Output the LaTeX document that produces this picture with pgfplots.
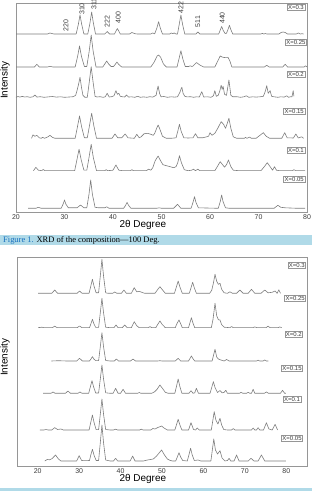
\documentclass[border=0pt]{standalone}
\usepackage{pgfplots}
\pgfplotsset{compat=1.18}
\usepackage{fontspec}
\setmainfont{Liberation Sans}
\newfontfamily\timesf{Liberation Serif}
\definecolor{trace}{RGB}{125,125,125}
\definecolor{axgray}{RGB}{150,150,150}
\definecolor{txt}{RGB}{60,60,60}
\definecolor{capbar}{RGB}{176,218,232}
\definecolor{capblue}{RGB}{20,110,190}
\pgfplotsset{
  off/.style={y filter/.expression={y+#1}},
  xrd/.style={
    scale only axis, height=209bp, ymin=0, ymax=209,
    ytick=\empty, xtick={20,30,...,80}, major tick length=0pt,
    axis line style={draw=axgray, line width=0.6bp},
    /pgf/number format/assume math mode=true,
    xticklabel style={font=\fontsize{7}{8}\selectfont, text=txt, inner sep=1bp, yshift=-1bp},
    xlabel={2θ Degree},
    xlabel style={font=\fontsize{7}{8}\selectfont, text=txt},
    ylabel={Intensity},
    ylabel style={font=\fontsize{8.5}{9}\selectfont, text=txt},
    clip=false,
    every axis plot/.append style={trace, line width=0.6bp, line join=round, no marks},
  },
}
\tikzset{
  xb/.style={draw=axgray, fill=white, font=\fontsize{6}{7}\selectfont, text=txt, inner sep=1bp, line width=0.5bp, anchor=north east},
  pk/.style={rotate=90, anchor=west, inner sep=0pt, font=\fontsize{7}{8}\selectfont, text=txt},
}
\begin{document}
\begin{tikzpicture}
\useasboundingbox (0,0) rectangle (312bp,491bp);
\fill[capbar] (0,246bp) rectangle (312bp,256bp);
\fill[capbar] (0,0) rectangle (312bp,3bp);
\node[anchor=west, inner sep=0pt, font=\timesf\fontsize{8.5}{9}\selectfont] at (3bp,251bp) {\textcolor{capblue}{Figure 1.} XRD of the composition—100 Deg.};

% ---------------- Panel 1 ----------------
\begin{axis}[xrd, at={(16bp,279bp)}, anchor=south west, width=291bp, xmin=20, xmax=80,
  every axis x label/.style={at={(rel axis cs:0.436,0)}, anchor=center, yshift=-12.5bp},
  every axis y label/.style={at={(rel axis cs:-0.038,0.63)}, anchor=center, rotate=90}]
% X=0.3
\addplot[off=178] coordinates {(20,0)(26.5,0)(27,1)(27.4,0.5)(27.8,0)(32.4,0)(32.85,9.5)(33.2,19)(33.55,9.5)(34.0,0)(34.8,0)(35.25,11)(35.6,22)(35.95,11)(36.4,0)(38.3,0)(38.8,2.5)(39.3,0)(40.3,0)(40.6,2.8)(40.9,5.5)(41.2,2.8)(41.5,0)(43.4,0)(43.9,1.5)(44.5,0.3)(45,0)(47.8,0)(48.2,1)(48.6,0.2)(49.05,6)(49.4,12.3)(49.75,6)(50.2,0)(51.7,0)(52,1)(52.3,0.3)(52.6,1)(53,0)(53.3,0)(53.65,9.5)(54,19)(54.35,9.5)(54.8,0)(57.1,0)(57.5,2)(57.9,0)(61.8,0)(62.1,3.8)(62.4,7.5)(62.7,3.8)(63.1,0.5)(63.4,0.8)(63.7,4.3)(64,8.7)(64.3,4.3)(64.7,0)(70.5,0)(70.8,0.6)(71.1,0)(71.4,0.5)(71.7,0)(74.2,0)(74.7,1.6)(75.1,2)(75.5,1.5)(76,0)(77.8,0)(78.2,1)(78.6,0)(79,0.3)(79.3,0)};
% X=0.25
\addplot[off=145] coordinates {(20,0)(23.8,0)(24.3,2.7)(24.8,0)(26.5,0)(27,0.7)(27.6,0)(32.2,0)(32.7,10.5)(33.1,21)(33.5,10.5)(34.1,0.5)(34.6,0.5)(35.1,16)(35.5,32)(35.9,16)(36.5,0)(37.9,0)(38.3,3)(38.7,6)(39.1,3)(39.6,0.5)(40.1,0.5)(40.45,2.5)(40.8,5)(41.2,2.5)(41.8,0)(47.8,0)(48.5,5)(49.1,11)(49.4,12)(49.8,10)(50.4,3)(51,0)(53.2,0)(53.6,8)(54,16.3)(54.4,8)(54.9,0.5)(55.6,0.5)(55.9,1.2)(56.3,0.5)(56.5,1)(57.2,4.5)(57.9,2)(58.7,0)(61,0)(61.6,6)(62.1,11)(62.5,10)(62.9,9.5)(63.7,9.7)(64.1,6)(64.5,0)(71.2,0)(71.7,1.7)(72.2,0)(75,0)(75.5,2.7)(76,0)(79.4,0)(79.7,1.2)(80,0)};
% X=0.2
\addplot[off=114.7] coordinates {(20,0)(20.4,0.8)(20.8,0.2)(21.3,0.9)(21.8,0.3)(22.3,0.6)(22.9,0)(23.5,0.5)(23.9,2.3)(24.3,0.2)(25,0.6)(25.8,0)(26.6,0.4)(27.5,0.8)(28.3,0.2)(29.2,0.5)(30,0)(31,0.3)(31.8,0.6)(32.3,2)(32.6,7)(32.9,13)(33.2,20)(33.5,10)(33.8,2)(34.2,0)(34.7,0)(35.1,15)(35.5,30.6)(35.9,15)(36.3,1)(36.7,0.3)(37.3,0.6)(38,0)(38.4,0.5)(38.8,4)(39.2,0.3)(39.7,0.6)(40.2,1.5)(40.6,6.6)(40.9,3)(41.2,4)(41.5,1)(42,0.5)(42.4,0.3)(42.8,2.3)(43.2,0.2)(43.8,0.5)(44.5,0)(45.1,1)(45.6,0)(46.3,0.4)(47,0)(47.6,0.6)(48.2,0.2)(48.9,2)(49.0,5)(49.3,11.3)(49.6,4)(49.9,0.5)(50.5,0.8)(51.2,0)(52,0.5)(52.7,0.2)(53.3,0.5)(53.8,5)(54.0,8)(54.2,10)(54.45,4)(54.8,1)(55.3,0.4)(56,0.6)(56.6,0)(57.2,0.5)(57.8,0.3)(58.3,5.6)(58.7,0.3)(59.5,0.5)(60.2,0)(60.7,1.5)(61,6.6)(61.3,1)(61.7,2)(62.0,6)(62.3,12)(62.5,8)(62.7,11)(63,3)(63.4,2)(63.9,17.3)(64.3,2)(64.7,0.5)(65.5,0.6)(66.3,0)(67,0.5)(67.5,1.5)(68,0)(68.8,0.5)(69.5,0.2)(70.3,0.5)(71,1)(71.4,6)(71.7,11.6)(72,4)(72.4,6.6)(72.7,1)(73.2,0.5)(74,0)(74.6,0.5)(75.3,0.2)(75.8,1.5)(76.2,0)(76.6,0.5)(76.9,0.5)(77.15,6.6)(77.3,1)};
% X=0.15
\addplot[off=73.7] coordinates {(23.2,0)(23.5,3.5)(23.9,2)(24.3,3)(24.8,0.5)(25.2,0)(25.5,1)(25.9,0)(26.6,1.5)(27,3)(27.5,1)(28,0)(32.2,0)(32.65,11)(33.1,22.3)(33.55,11)(34.1,0.5)(34.7,0.5)(35.15,12.5)(35.6,25)(36.05,12.5)(36.6,0)(39.8,0)(40.4,4.3)(41,0.5)(41.8,0.5)(42.5,4.3)(43.1,0.5)(44.4,0)(44.9,4)(45.4,0.5)(45.8,1.5)(46.4,4.5)(47.1,5)(47.8,4)(48.3,3)(48.6,5)(49,10)(49.3,13.3)(49.6,10)(50.2,2)(51,0)(52,0)(53,0.5)(53.35,7)(53.7,14)(54.05,7)(54.6,0.5)(55.5,0.3)(56.5,0.5)(57,4.6)(57.5,0.5)(58.5,0.5)(59.7,2)(60,5.6)(60.4,3)(61,5)(61.6,10)(62.3,16.6)(62.8,14)(63.2,10)(63.5,14)(63.9,20)(64.3,10)(64.8,1.5)(65.5,0)(67.1,0)(67.3,1)(67.6,0)(68.2,1.2)(68.5,0)(69.5,0)(70.3,3)(71,5.6)(71.6,2)(72.3,0)(74.8,0)(75.4,5.6)(75.9,0.5)(77.2,0.3)(77.7,4.3)(78.2,0.3)(78.9,1.5)(79.3,0)};
% X=0.1
\addplot[off=41.3] coordinates {(23.6,0)(24.1,3.4)(24.6,0.5)(25.3,0)(25.6,1.2)(26,0)(29,0)(32.1,0)(32.55,10.7)(33,21.4)(33.45,10.7)(34,0.5)(34.6,0.5)(35.05,13)(35.5,26.4)(35.95,13)(36.6,0)(38.3,0)(38.6,1)(38.9,0)(40,0.5)(40.6,5.7)(41.2,0.5)(42,0)(43.6,0)(43.9,1)(44.2,0)(46.9,0)(47.3,1.5)(47.8,0.5)(48.2,3)(48.7,10)(49.3,14.7)(49.8,10)(50.3,6)(51,5)(51.8,4)(52.5,3)(53,4)(53.35,8)(53.7,15)(54.1,8)(54.7,1)(55.5,0)(56.2,0.5)(56.6,1.5)(57,0)(57.5,1.5)(57.9,0)(61,0)(61.5,4)(62.1,9)(62.6,6)(63,3.5)(63.4,6)(63.8,10.7)(64.3,4)(64.8,0.5)(66,0)(70.5,0)(71.2,4)(71.8,8)(72.4,4)(72.9,0.5)(73.3,4)(73.7,0.5)(74.3,0)(77,0)(77.3,1)(77.7,0)(79.6,0)};
% X=0.05
\addplot[off=3.7] coordinates {(22.5,0)(24.1,0)(24.6,1)(25.2,0)(29.3,0)(29.7,4)(30,8.3)(30.3,4)(30.8,0.5)(32.6,0.5)(33.3,3.3)(34,0.5)(34.6,0.5)(35.05,14)(35.4,28.3)(35.75,14)(36.3,1)(37,0.5)(38.3,0.5)(38.7,1.5)(39.2,0)(42.2,0)(42.6,3)(42.9,6)(43.2,3)(43.7,0)(49,0)(49.5,0.5)(50,0)(52.5,0)(53.3,4)(54,0)(56.1,0)(56.5,6)(56.8,11.6)(57.1,6)(57.6,0.5)(61.7,0)(62.1,6.5)(62.4,13.3)(62.7,6.5)(63.2,0.5)(64,0)(73.2,0)(74,3)(74.6,1)(75.5,0.5)(78,0)(79.6,0)};
\node[pk] at (axis cs:30.3,180.3) {220};
\node[pk] at (axis cs:33.6,197) {310};
\node[pk] at (axis cs:36.1,202) {311};
\node[pk] at (axis cs:38.8,184.3) {222};
\node[pk] at (axis cs:41.1,188.7) {400};
\node[pk] at (axis cs:54.0,198.7) {422};
\node[pk] at (axis cs:57.5,184.7) {511};
\node[pk] at (axis cs:62.5,188) {440};
\node[xb] at (axis cs:79.6,208) {X=0.3};
\node[xb] at (axis cs:79.95,173) {X=0.25};
\node[xb] at (axis cs:79.6,141) {X=0.2};
\node[xb] at (axis cs:79.6,104) {X=0.15};
\node[xb] at (axis cs:79.6,65) {X=0.1};
\node[xb] at (axis cs:79.6,36) {X=0.05};
\end{axis}

% ---------------- Panel 2 ----------------
\begin{axis}[xrd, at={(17bp,25bp)}, anchor=south west, width=290bp, xmin=15, xmax=85,
  every axis x label/.style={at={(rel axis cs:0.434,0)}, anchor=center, yshift=-12.5bp},
  every axis y label/.style={at={(rel axis cs:-0.041,0.52)}, anchor=center, rotate=90}]
% X=0.3
\addplot[off=172.7] coordinates {(20.1,0)(23.4,0)(24.1,3.3)(24.8,0)(29.5,0)(30.1,2.3)(30.7,0)(32.4,0)(32.8,7)(33.2,14)(33.6,7)(34.1,0.5)(34.7,0.5)(35.1,17)(35.5,34)(35.9,17)(36.4,0.5)(37,0)(38.1,0)(38.6,1.3)(39.1,0)(40.2,0)(40.8,3.3)(41.4,0)(42.6,0)(43.3,5.6)(43.9,1.5)(44.5,2)(45.1,1)(45.8,0)(48.3,0)(49,4)(49.5,6.6)(50,4)(50.8,0)(53,0)(53.45,6)(53.9,12.3)(54.35,6)(54.9,0)(56.6,0)(57,5.5)(57.4,11)(57.8,5.5)(58.3,0)(61.5,0)(62,3)(62.4,10)(62.8,19)(63.2,12)(63.6,9)(64,10)(64.4,4)(65,0.5)(65.8,0)(66.4,1.5)(67,0)(68,0)(68.8,3.3)(69.6,0)(70.8,0)(71.6,4)(72.4,0)(73.9,0)(74.8,3.3)(75.6,0.5)(76.6,1)(77.3,2.3)(77.8,0)(78.2,3.5)(78.6,0)};
% X=0.25
\addplot[off=138.3] coordinates {(20.1,0)(21,0.5)(21.5,0)(23.5,0)(24.1,1.5)(24.7,0)(29.5,0)(30.1,1.7)(30.7,0)(32.5,0)(32.85,4)(33.2,8.4)(33.55,4)(34,0.3)(34.7,0.3)(35.1,14.7)(35.5,29.4)(35.9,14.7)(36.4,0.5)(37.5,0)(38.4,0)(38.9,2.7)(39.4,0)(40.4,0)(41,2.7)(41.6,0)(42.6,0)(43.3,6)(43.9,2)(44.5,0)(46.6,0)(47.1,1)(47.6,0)(48.5,0)(49,3.5)(49.5,6.7)(50,3.5)(50.8,0)(53.2,0)(53.6,4)(54.1,7.7)(54.5,4)(54.9,0)(56.4,0)(56.75,5)(57.1,10)(57.45,5)(57.9,0)(61.9,0)(62.3,8)(62.8,24.4)(63.2,12)(63.6,8)(64,7.7)(64.4,3)(65,0.5)(66.4,0)(66.8,1.2)(67.2,0)(71.9,0)(72.4,0.8)(72.9,0)(75.1,0)(75.6,1.5)(76.1,0)(78,0)(78.4,0.8)(78.9,0)};
% X=0.2
\addplot[off=105] coordinates {(23.3,0)(25,0.3)(27,0)(29.4,0)(30.1,2.7)(30.8,0)(32.5,0)(32.85,2)(33.2,4.3)(33.55,2)(34,0.3)(34.7,0.3)(35.1,14)(35.5,28.3)(35.9,14)(36.4,0.5)(37.5,0)(38.5,0)(39,2)(39.5,0)(42.4,0)(43,2)(43.6,0)(49,0)(49.5,0.3)(50,0)(53.2,0)(53.9,2.7)(54.5,0)(56.4,0)(56.75,2.5)(57.1,5)(57.45,2.5)(57.9,0)(62.1,0)(62.45,6)(62.8,11.7)(63.2,4)(63.6,2)(64.2,1)(65,0)(65.6,1.5)(66.2,0)(72.8,0)(73.2,0.8)(73.6,0)(74.4,0)(74.8,1)(75.2,0)(75.7,0)};
% X=0.15
\addplot[off=72.7] coordinates {(21.3,0)(23.2,0)(23.7,1.3)(24.2,0)(26.7,0)(27.3,2.3)(27.9,0)(29.7,0)(30.2,1.3)(30.7,0)(32.3,0)(32.7,6.3)(33.1,12.6)(33.5,6.3)(34,0.3)(34.7,0.3)(35.1,14)(35.5,28.3)(35.9,14)(36.4,0.5)(37.5,0)(38.2,0)(38.8,5)(39.4,0)(40,0)(40.6,4)(41.2,0)(44.1,0)(44.5,0.8)(44.9,0)(47.5,0)(48.2,1.5)(48.8,4)(49.5,8.3)(50.1,5)(50.8,1)(51.5,0)(53.1,0)(53.5,7)(53.9,14.3)(54.3,7)(54.8,0)(56.5,0)(57,2.6)(57.5,0)(57.9,0.5)(58.3,5)(58.8,0)(61.6,0)(62,5.8)(62.4,11.6)(62.8,5.8)(63.4,0.8)(64,2.8)(64.5,0.5)(65,1)(65.4,3)(65.8,0)(68.7,0)(69.1,1)(69.5,0)(70.4,0)(70.8,1)(71.2,0)(71.6,0)(72,4)(72.4,0)(74.7,0)(75.2,1.3)(75.7,0)(78.6,0)(79.1,3)(79.6,0)(79.9,0)};
% X=0.1
\addplot[off=36] coordinates {(20.5,0)(21.5,0)(22,0.5)(22.5,0)(23.4,0)(24.1,2.3)(24.8,0.5)(25.6,1)(26.2,0)(32.4,0)(32.8,7.5)(33.2,15)(33.6,7.5)(34.1,0.3)(34.7,0.3)(35.1,15.5)(35.5,31)(35.9,15.5)(36.4,0.5)(37.5,0)(38.3,0)(38.8,0.8)(39.3,0)(44.6,0)(45,0.8)(45.4,0)(47.3,0)(47.8,1.5)(48.3,1)(49,2.5)(49.9,4)(50.5,2)(51.3,0)(53.1,0)(53.5,5.3)(53.9,10.7)(54.3,5.3)(54.8,0)(56.4,0)(57,7.3)(57.6,0.5)(58.1,0)(58.5,2)(59,0)(61.9,0)(62.25,9)(62.6,18.3)(63,10)(63.5,6)(64,11.7)(64.4,5)(64.9,0.5)(65.8,0)(66.8,0)(67.2,1.5)(67.6,0)(71.6,0)(72,2)(72.4,0)(72.8,0)(73.2,2.3)(73.6,0)(74.5,0)(75.2,7.3)(75.8,1)(76.6,0)(77.3,5.7)(77.9,0)};
% X=0.05
\addplot[off=5] coordinates {(21.7,0)(22.3,1.5)(22.9,1.2)(23.5,2.5)(24.3,6)(25,2)(25.6,0)(29.4,0)(30,5.3)(30.6,0.5)(31.5,0.3)(32.5,0.5)(32.8,5.8)(33.2,11.7)(33.6,5.8)(34.1,0.5)(34.7,0.5)(35.1,18)(35.5,36)(35.9,18)(36.4,1)(37.5,0)(38.3,0)(38.8,2.7)(39.3,0)(42.3,0)(42.9,5)(43.5,0)(45.5,0)(46.5,1)(47.9,2)(48.7,5)(49.9,11)(50.6,6)(51.3,2)(52,0.5)(52.6,0)(53.3,0)(53.7,4)(54.1,8.3)(54.5,4)(55,0.5)(56.1,0)(56.5,6)(56.9,12.7)(57.3,6)(57.8,0.5)(58.7,1)(59.4,0)(61.8,0)(62.15,11)(62.5,22)(62.9,11)(63.4,7)(64,10.3)(64.5,3)(65.2,0)(65.8,0.5)(66.2,2.7)(66.6,0)(67.4,0)(68,6)(68.6,0)(70.8,0)(71.5,2.7)(72.2,0)(73.2,0)(74,6)(74.8,0)(79.9,0)};
\node[xb] at (axis cs:84.75,204) {X=0.3};
\node[xb] at (axis cs:84.75,171) {X=0.25};
\node[xb] at (axis cs:84.0,135) {X=0.2};
\node[xb] at (axis cs:84.0,101) {X=0.15};
\node[xb] at (axis cs:83.6,70) {X=0.1};
\node[xb] at (axis cs:84.0,31) {X=0.05};
\end{axis}
\end{tikzpicture}
\end{document}
